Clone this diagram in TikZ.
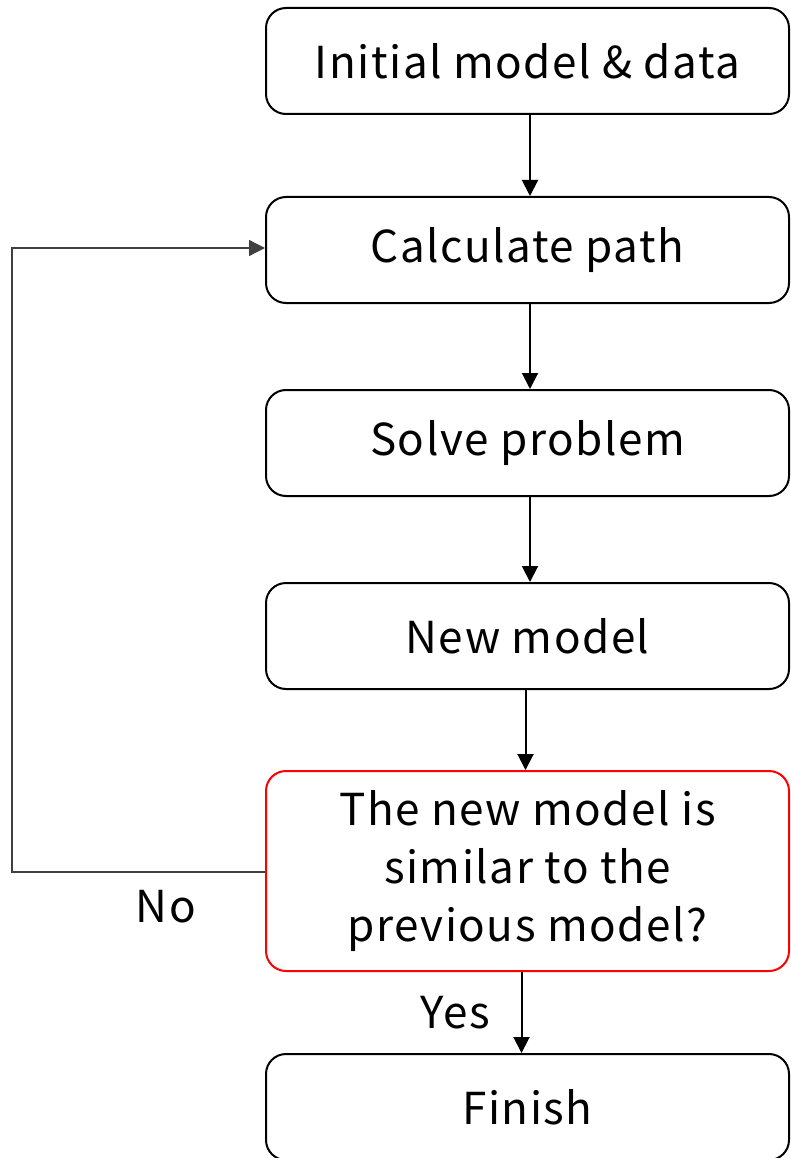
\documentclass[tikz,border=0pt]{standalone}
\usepackage{fontspec}
\setmainfont{Noto Sans CJK JP}[LetterSpace=3.5]
\usetikzlibrary{arrows.meta}
\begin{document}
\begin{tikzpicture}[x=1pt,y=-1pt,
  box/.style={draw=black, line width=2pt, rounded corners=20pt, minimum width=523pt, minimum height=106pt, inner sep=0pt, align=center, font=\fontsize{44}{58}\selectfont},
  arr/.style={line width=2pt, -{Triangle[width=16pt,length=16pt]}},
  loop/.style={draw=black!75, line width=1.3pt, -{Triangle[width=16pt,length=16pt]}},
  lbl/.style={font=\fontsize{44}{58}\selectfont, inner sep=0pt}]
\useasboundingbox (0,0) rectangle (790,1158);
\clip (0,0) rectangle (790,1158);
\node[box] (b1) at (527.5,61) {Initial model \& data};
\node[box] (b2) at (527.5,250) {Calculate path};
\node[box] (b3) at (527.5,443) {Solve problem};
\node[box] (b4) at (527.5,636) {New model};
\node[box, draw=red, minimum height=200pt] (b5) at (527.5,871) {The new model is\\similar to the\\previous model?};
\node[box] (b6) at (527.5,1107) {Finish};
\draw[arr] ([xshift=2.5pt]b1.south) -- ([xshift=2.5pt]b2.north);
\draw[arr] ([xshift=2.5pt]b2.south) -- ([xshift=2.5pt]b3.north);
\draw[arr] ([xshift=2.5pt]b3.south) -- ([xshift=2.5pt]b4.north);
\draw[arr] ([xshift=-2pt]b4.south) -- ([xshift=-2pt]b5.north);
\draw[arr] ([xshift=-6pt]b5.south) -- ([xshift=-6pt]b6.north);
\coordinate (c1) at (12,872);
\coordinate (c2) at (12,248);
\draw[loop] (b5.west |- c1) -- (c1) -- (c2) -- (b2.west |- c2);
\node[lbl] (no) at (166,907) {No};
\node[lbl] (yes) at (455,1013) {Yes};
\end{tikzpicture}
\end{document}
